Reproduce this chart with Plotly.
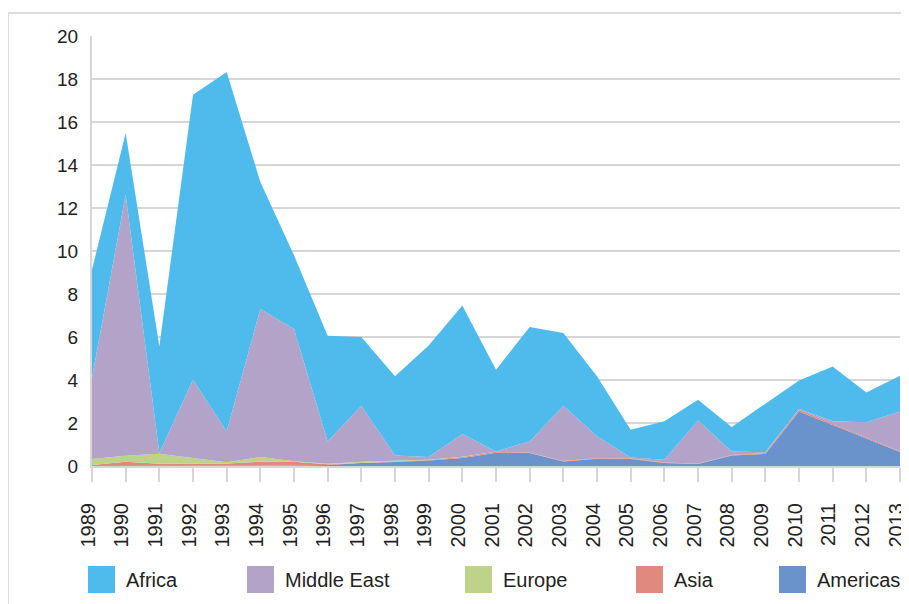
import plotly.graph_objects as go

years = list(range(1989, 2014))
year_labels = [str(y) for y in years]

africa = [5.04, 2.87, 4.96, 13.26, 16.73, 5.91, 3.43, 4.92, 3.20, 3.68, 5.19, 5.97, 3.80,
          5.33, 3.39, 2.79, 1.29, 1.79, 0.96, 1.13, 2.26, 1.33, 2.55, 1.39, 1.66]
middle_east = [3.76, 12.14, 0.03, 3.65, 1.42, 6.88, 6.15, 1.04, 2.60, 0.25, 0.13, 1.06, 0.02,
               0.52, 2.57, 1.02, 0.05, 0.13, 2.02, 0.17, 0.04, 0.03, 0.10, 0.71, 1.86]
europe = [0.28, 0.28, 0.47, 0.26, 0.06, 0.22, 0.02, 0.02, 0.04, 0.03, 0.01, 0.01, 0.0,
          0.0, 0.0, 0.0, 0.0, 0.0, 0.0, 0.0, 0.0, 0.0, 0.0, 0.0, 0.0]
asia = [0.05, 0.20, 0.10, 0.10, 0.12, 0.19, 0.18, 0.03, 0.02, 0.02, 0.02, 0.05, 0.04,
        0.02, 0.02, 0.02, 0.02, 0.02, 0.01, 0.02, 0.04, 0.08, 0.06, 0.05, 0.03]
americas = [0.0, 0.0, 0.0, 0.0, 0.0, 0.01, 0.02, 0.05, 0.14, 0.19, 0.26, 0.37, 0.62,
            0.60, 0.21, 0.34, 0.33, 0.14, 0.09, 0.49, 0.56, 2.54, 1.92, 1.27, 0.65]

series_names = ["Africa", "Middle East", "Europe", "Asia", "Americas"]
series_values = [africa, middle_east, europe, asia, americas]
series_colors = ["#4FBBEC", "#B3A3C9", "#BDD389", "#E0897F", "#6A92CB"]

y_ticks = [0, 2, 4, 6, 8, 10, 12, 14, 16, 18, 20]

FONT = "Liberation Sans, Helvetica, Arial, sans-serif"
TXT = "#222222"
GRID = "#d6d6d6"

fig = go.Figure()
# stack bottom-up: Americas, Asia, Europe, Middle East, Africa
for name, vals, col in reversed(list(zip(series_names, series_values, series_colors))):
    fig.add_trace(go.Scatter(
        x=years, y=vals, name=name, mode="lines", stackgroup="one",
        line=dict(width=0, color=col), fillcolor=col, showlegend=False,
    ))

OFF = 8  # page body margin
W, H = 909, 596
L, R, T, B = 84, 17, 28, 138
pw, ph = W - L - R, H - T - B

def px_x(px):
    return (px - OFF - L) / pw

def px_y(py):
    return (H - B - (py - OFF)) / ph

shapes = [
    dict(type="rect", xref="paper", yref="paper",
         x0=px_x(8), x1=px_x(925), y0=px_y(620), y1=px_y(13),
         line=dict(color="#dcdcdc", width=2), fillcolor="rgba(0,0,0,0)", layer="below"),
]
annotations = []
legend_sq_x = [88, 247, 465, 636, 779]
for name, col, sx in zip(series_names, series_colors, legend_sq_x):
    shapes.append(dict(type="rect", xref="paper", yref="paper",
                       x0=px_x(sx), x1=px_x(sx + 27), y0=px_y(593), y1=px_y(566),
                       line=dict(width=0), fillcolor=col))
    annotations.append(dict(xref="paper", yref="paper", x=px_x(sx + 36), y=px_y(580),
                            text=name, showarrow=False, xanchor="left", yanchor="middle",
                            font=dict(family=FONT, size=20, color=TXT)))

fig.update_layout(
    width=W, height=H,
    margin=dict(l=L, r=R, t=T, b=B, autoexpand=False),
    paper_bgcolor="white", plot_bgcolor="white",
    showlegend=False,
    shapes=shapes, annotations=annotations,
    font=dict(family=FONT, color=TXT),
)
fig.update_xaxes(
    range=[1989, 2013], tickmode="array", tickvals=years, ticktext=year_labels,
    tickangle=-90, ticks="outside", ticklen=14, tickcolor=GRID, tickwidth=1.5,
    ticklabelstandoff=13, ticklabelshift=-4, ticklabeloverflow="allow", automargin=False,
    showgrid=False, showline=True, linecolor=GRID, linewidth=2, zeroline=False,
    tickfont=dict(family=FONT, size=20, color=TXT),
)
fig.update_yaxes(
    range=[0, 20], tickmode="array", tickvals=y_ticks, ticktext=[str(v) for v in y_ticks],
    showgrid=True, gridcolor=GRID, gridwidth=1.5, showline=True, linecolor=GRID, linewidth=2,
    zeroline=False, ticks="", ticklabelstandoff=8, automargin=False,
    tickfont=dict(family=FONT, size=19, color=TXT),
)

fig.write_html("out.html")
